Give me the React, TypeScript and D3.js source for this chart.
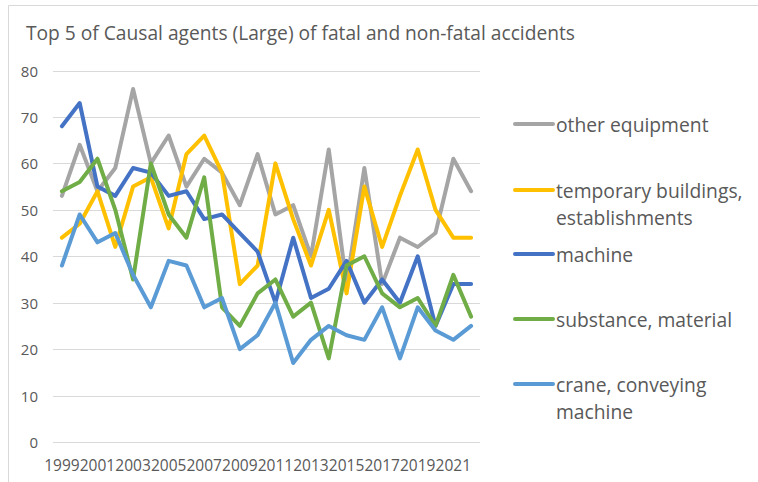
import * as d3 from "d3";

const years = d3.range(1999, 2023).map(String);

const otherEquipment = [53, 64, 54, 59, 76, 60, 66, 55, 61, 58, 51, 62, 49, 51, 40, 63, 34, 59, 34, 44, 42, 45, 61, 54];
const temporaryBuildings = [44, 47, 54, 42, 55, 57, 46, 62, 66, 58, 34, 38, 60, 48, 38, 50, 32, 55, 42, 53, 63, 50, 44, 44];
const machine = [68, 73, 55, 53, 59, 58, 53, 54, 48, 49, 45, 41, 30, 44, 31, 33, 39, 30, 35, 30, 40, 25, 34, 34];
const substance = [54, 56, 61, 50, 35, 60, 49, 44, 57, 29, 25, 32, 35, 27, 30, 18, 38, 40, 32, 29, 31, 25, 36, 27];
const crane = [38, 49, 43, 45, 36, 29, 39, 38, 29, 31, 20, 23, 30, 17, 22, 25, 23, 22, 29, 18, 29, 24, 22, 25];

const seriesNames = [
  ["other equipment"],
  ["temporary buildings,", "establishments"],
  ["machine"],
  ["substance, material"],
  ["crane, conveying", "machine"],
];
const seriesValues = [otherEquipment, temporaryBuildings, machine, substance, crane];
const colors = ["#A5A5A5", "#FFC000", "#4472C4", "#70AD47", "#5B9BD5"];

const yTicks = [0, 10, 20, 30, 40, 50, 60, 70, 80];
const xTickLabels = years.filter((_, i) => i % 2 === 0);

const W = 758;
const H = 482;
const FONT = "'Open Sans', 'Noto Sans', sans-serif";

export default function App() {
  const x = d3.scaleBand<string>().domain(years).range([53, 480]);
  const cx = (yr: string) => (x(yr) ?? 0) + x.bandwidth() / 2;
  const y = d3.scaleLinear().domain([0, 80]).range([442, 70.5]);

  const line = d3
    .line<number>()
    .x((_, i) => cx(years[i]))
    .y((d) => y(d));

  // legend rows: y of first text line for each entry
  const legendY = [124, 190, 254, 319, 384];

  return (
    <svg
      width={W}
      height={H}
      style={{ position: "absolute", left: 0, top: 0, background: "#fff" }}
      fontFamily={FONT}
    >
      <rect x={0} y={0} width={W} height={H} fill="#fff" />
      {/* chart frame */}
      <path d={`M8.5,${H} V5.5 H${W}`} fill="none" stroke="#D9D9D9" strokeWidth={1} />

      <text x={26} y={32} fontSize={19.2} fill="#595959" dominantBaseline="central">
        Top 5 of Causal agents (Large) of fatal and non-fatal accidents
      </text>

      {/* gridlines + y labels */}
      {yTicks.map((t) => (
        <g key={t}>
          <line x1={53} x2={480} y1={Math.round(y(t)) + 0.5} y2={Math.round(y(t)) + 0.5} stroke="#D9D9D9" strokeWidth={1} />
          <text x={38} y={y(t)} fontSize={15} fill="#595959" textAnchor="end" dominantBaseline="central">
            {t}
          </text>
        </g>
      ))}

      {/* x labels */}
      {xTickLabels.map((yr) => (
        <text key={yr} x={cx(yr)} y={465} fontSize={15.5} fill="#595959" textAnchor="middle" dominantBaseline="central">
          {yr}
        </text>
      ))}

      {/* series */}
      {seriesValues.map((vals, i) => (
        <path
          key={i}
          d={line(vals) ?? ""}
          fill="none"
          stroke={colors[i]}
          strokeWidth={4}
          strokeLinejoin="round"
          strokeLinecap="round"
        />
      ))}

      {/* legend */}
      {seriesNames.map((lines, i) => (
        <g key={i}>
          <line x1={515} x2={553} y1={legendY[i]} y2={legendY[i]} stroke={colors[i]} strokeWidth={4} strokeLinecap="round" />
          {lines.map((s, j) => (
            <text
              key={j}
              x={556}
              y={legendY[i] + j * 27}
              fontSize={19.3}
              fill="#595959"
              dominantBaseline="central"
            >
              {s}
            </text>
          ))}
        </g>
      ))}
    </svg>
  );
}
